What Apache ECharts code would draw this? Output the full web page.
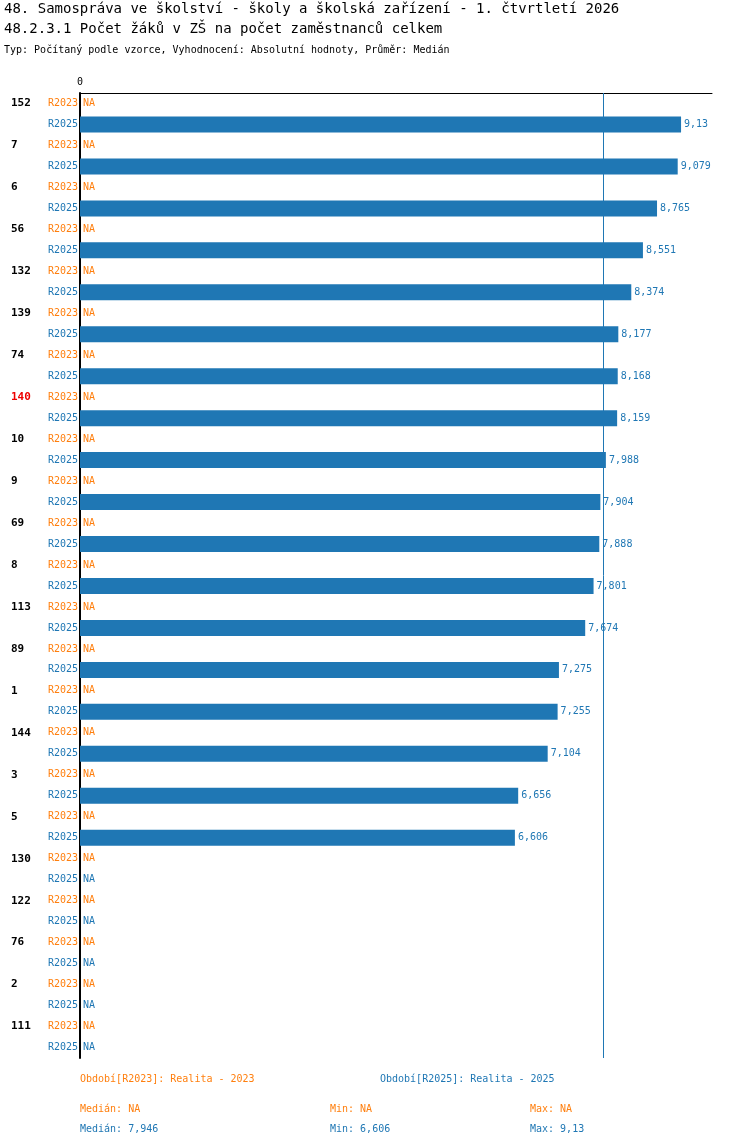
<!DOCTYPE html>
<html><head><meta charset="utf-8">
<script src="https://cdn.jsdelivr.net/npm/echarts@6/dist/echarts.min.js"></script>
<style>body{margin:0;background:#fff}#c{width:750px;height:1148px}</style>
</head><body><div id="c"></div>
<script>
const ids = ['152','7','6','56','132','139','74','140','10','9','69','8','113','89','1','144','3','5','130','122','76','2','111'];
const r2025 = [9.13,9.079,8.765,8.551,8.374,8.177,8.168,8.159,7.988,7.904,7.888,7.801,7.674,7.275,7.255,7.104,6.656,6.606,null,null,null,null,null];
const highlight = '140';
const median2025 = 7.946;

const ORANGE = '#ff7f0e', BLUE = '#1f77b4', FONT = 'DejaVu Sans Mono';
const fmt = v => String(v).replace('.', ',');

const cats = [], barData = [], naData = [];
ids.forEach((id, i) => {
  cats.push('a' + i); cats.push('b' + i);
  barData.push(null); barData.push(r2025[i]);
  naData.push({value: 0, label: {color: ORANGE}});
  naData.push(r2025[i] == null ? {value: 0, label: {color: BLUE}} : null);
});

const chart = echarts.init(document.getElementById('c'));
chart.setOption({
  animation: false,
  textStyle: {fontFamily: FONT},
  grid: {left: 80, right: 38, top: 93, bottom: 90},
  xAxis: {type: 'value', position: 'top', min: 0, max: 9.6, interval: 9.6,
    axisLine: {show: true, lineStyle: {color: '#000'}}, axisTick: {show: false},
    splitLine: {show: false},
    axisLabel: {fontSize: 10, color: '#000', margin: 6, formatter: v => v === 0 ? '0' : ''}},
  yAxis: {type: 'category', inverse: true, data: cats,
    axisLine: {show: true, lineStyle: {color: '#000', width: 2}}, axisTick: {show: false},
    axisLabel: {margin: 2, interval: 0, formatter: (v) => {
      const i = +v.slice(1);
      if (v[0] === 'a') return '{' + (ids[i] === highlight ? 'hid' : 'id') + '|' + ids[i] + '}{o|R2023}';
      return '{b|R2025}';
    }, rich: {
      id: {fontSize: 11, fontWeight: 'bold', color: '#000', width: 37, align: 'left', fontFamily: FONT},
      hid: {fontSize: 11, fontWeight: 'bold', color: '#e00', width: 37, align: 'left', fontFamily: FONT},
      o: {fontSize: 10, color: ORANGE, fontFamily: FONT},
      b: {fontSize: 10, color: BLUE, fontFamily: FONT}
    }}},
  series: [
    {type: 'bar', data: barData, barWidth: 16, itemStyle: {color: BLUE},
      label: {show: true, position: 'right', distance: 3, color: BLUE, fontSize: 10, fontFamily: FONT, formatter: p => fmt(p.value)},
      markLine: {symbol: 'none', silent: true, label: {show: false},
        lineStyle: {color: BLUE, width: 1, type: 'solid'}, data: [{xAxis: median2025}]}},
    {type: 'bar', data: naData, barGap: '-100%', barWidth: 16,
      label: {show: true, position: 'insideLeft', offset: [0, 0], distance: 3, fontSize: 10, fontFamily: FONT, formatter: 'NA'}}
  ],
  graphic: [
    {type: 'text', left: 4, top: 2, style: {text: '48. Samospráva ve školství - školy a školská zařízení - 1. čtvrtletí 2026', font: '14px "DejaVu Sans Mono"', fill: '#000'}},
    {type: 'text', left: 4, top: 22, style: {text: '48.2.3.1 Počet žáků v ZŠ na počet zaměstnanců celkem', font: '14px "DejaVu Sans Mono"', fill: '#000'}},
    {type: 'text', left: 4, top: 45, style: {text: 'Typ: Počítaný podle vzorce, Vyhodnocení: Absolutní hodnoty, Průměr: Medián', font: '10px "DejaVu Sans Mono"', fill: '#000'}},
    {type: 'text', left: 80, top: 1074, style: {text: 'Období[R2023]: Realita - 2023', font: '10px "DejaVu Sans Mono"', fill: ORANGE}},
    {type: 'text', left: 380, top: 1074, style: {text: 'Období[R2025]: Realita - 2025', font: '10px "DejaVu Sans Mono"', fill: BLUE}},
    {type: 'text', left: 80, top: 1104, style: {text: 'Medián: NA', font: '10px "DejaVu Sans Mono"', fill: ORANGE}},
    {type: 'text', left: 330, top: 1104, style: {text: 'Min: NA', font: '10px "DejaVu Sans Mono"', fill: ORANGE}},
    {type: 'text', left: 530, top: 1104, style: {text: 'Max: NA', font: '10px "DejaVu Sans Mono"', fill: ORANGE}},
    {type: 'text', left: 80, top: 1124, style: {text: 'Medián: ' + fmt(median2025), font: '10px "DejaVu Sans Mono"', fill: BLUE}},
    {type: 'text', left: 330, top: 1124, style: {text: 'Min: ' + fmt(6.606), font: '10px "DejaVu Sans Mono"', fill: BLUE}},
    {type: 'text', left: 530, top: 1124, style: {text: 'Max: ' + fmt(9.13), font: '10px "DejaVu Sans Mono"', fill: BLUE}}
  ]
});
</script></body></html>
